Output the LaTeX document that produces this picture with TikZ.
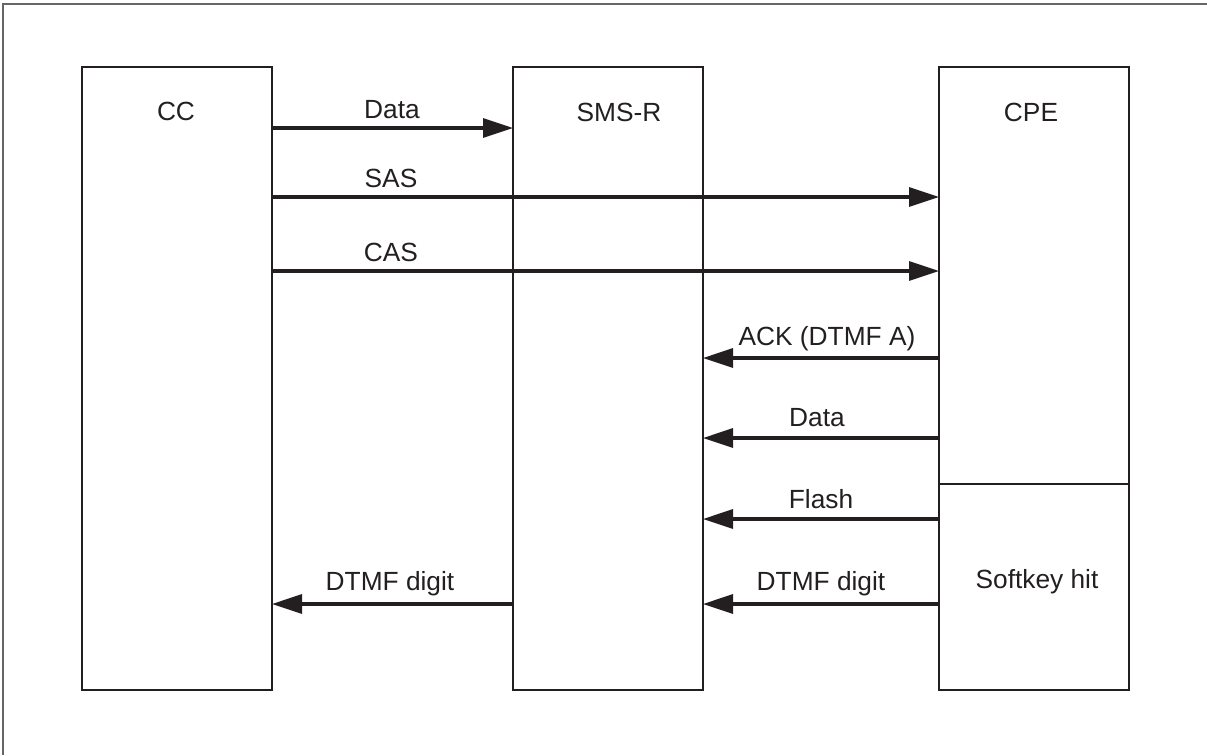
\documentclass[tikz,border=0pt]{standalone}
\usepackage{fontspec}
\setmainfont{Liberation Sans}
\usetikzlibrary{arrows.meta}
\definecolor{ink}{HTML}{231F20}
\tikzset{
  box/.style={draw=ink, line width=2pt, inner sep=0pt, outer sep=0pt, minimum width=190pt, minimum height=623pt},
  arr/.style={draw=ink, line width=3.2pt, -{Triangle[length=30pt,width=19pt]}},
  lbl/.style={anchor=base, inner sep=0pt, text=ink, font=\fontsize{26.3}{30}\selectfont},
  frame/.style={draw=black!60, line width=1.5pt}
}
\begin{document}
\begin{tikzpicture}[x=1pt,y=-1pt]
\useasboundingbox (0,0) rectangle (1207,755);
\coordinate (fa) at (3,755);
\coordinate (fb) at (3,4);
\coordinate (fc) at (1207,4);
\draw[frame] (fa) -- (fb) -- (fc);
% boxes
\node[box] (cc) at (177,378.5) {};
\node[box] (smsr) at (608,378.5) {};
\node[box] (cpe) at (1034,378.5) {};
\draw[draw=ink, line width=2pt] (cpe.west |- 0,484) coordinate (dl) -- (cpe.east |- 0,484) coordinate (dr);
% titles
\node[lbl] (tcc) at (176,120) {CC};
\node[lbl] (tsms) at (619,121) {SMS-R};
\node[lbl] (tcpe) at (1031,121) {CPE};
\node[lbl] (tsoft) at (1037,588) {Softkey hit};
% arrows
\draw[arr] (cc.east |- 0,128) -- (smsr.west |- 0,128);
\node[lbl] (l1) at (392,118) {Data};
\draw[arr] (cc.east |- 0,197) -- (cpe.west |- 0,197);
\node[lbl] (l2) at (391,187) {SAS};
\draw[arr] (cc.east |- 0,271) -- (cpe.west |- 0,271);
\node[lbl] (l3) at (391,261) {CAS};
\draw[arr] (cpe.west |- 0,358) -- (smsr.east |- 0,358);
\node[lbl] (l4) at (827,345) {ACK (DTMF A)};
\draw[arr] (cpe.west |- 0,438) -- (smsr.east |- 0,438);
\node[lbl] (l5) at (817,426) {Data};
\draw[arr] (cpe.west |- 0,519) -- (smsr.east |- 0,519);
\node[lbl] (l6) at (821,508) {Flash};
\draw[arr] (cpe.west |- 0,604) -- (smsr.east |- 0,604);
\node[lbl] (l7) at (821,590) {DTMF digit};
\draw[arr] (smsr.west |- 0,604) -- (cc.east |- 0,604);
\node[lbl] (l8) at (390,590) {DTMF digit};
\end{tikzpicture}
\end{document}
